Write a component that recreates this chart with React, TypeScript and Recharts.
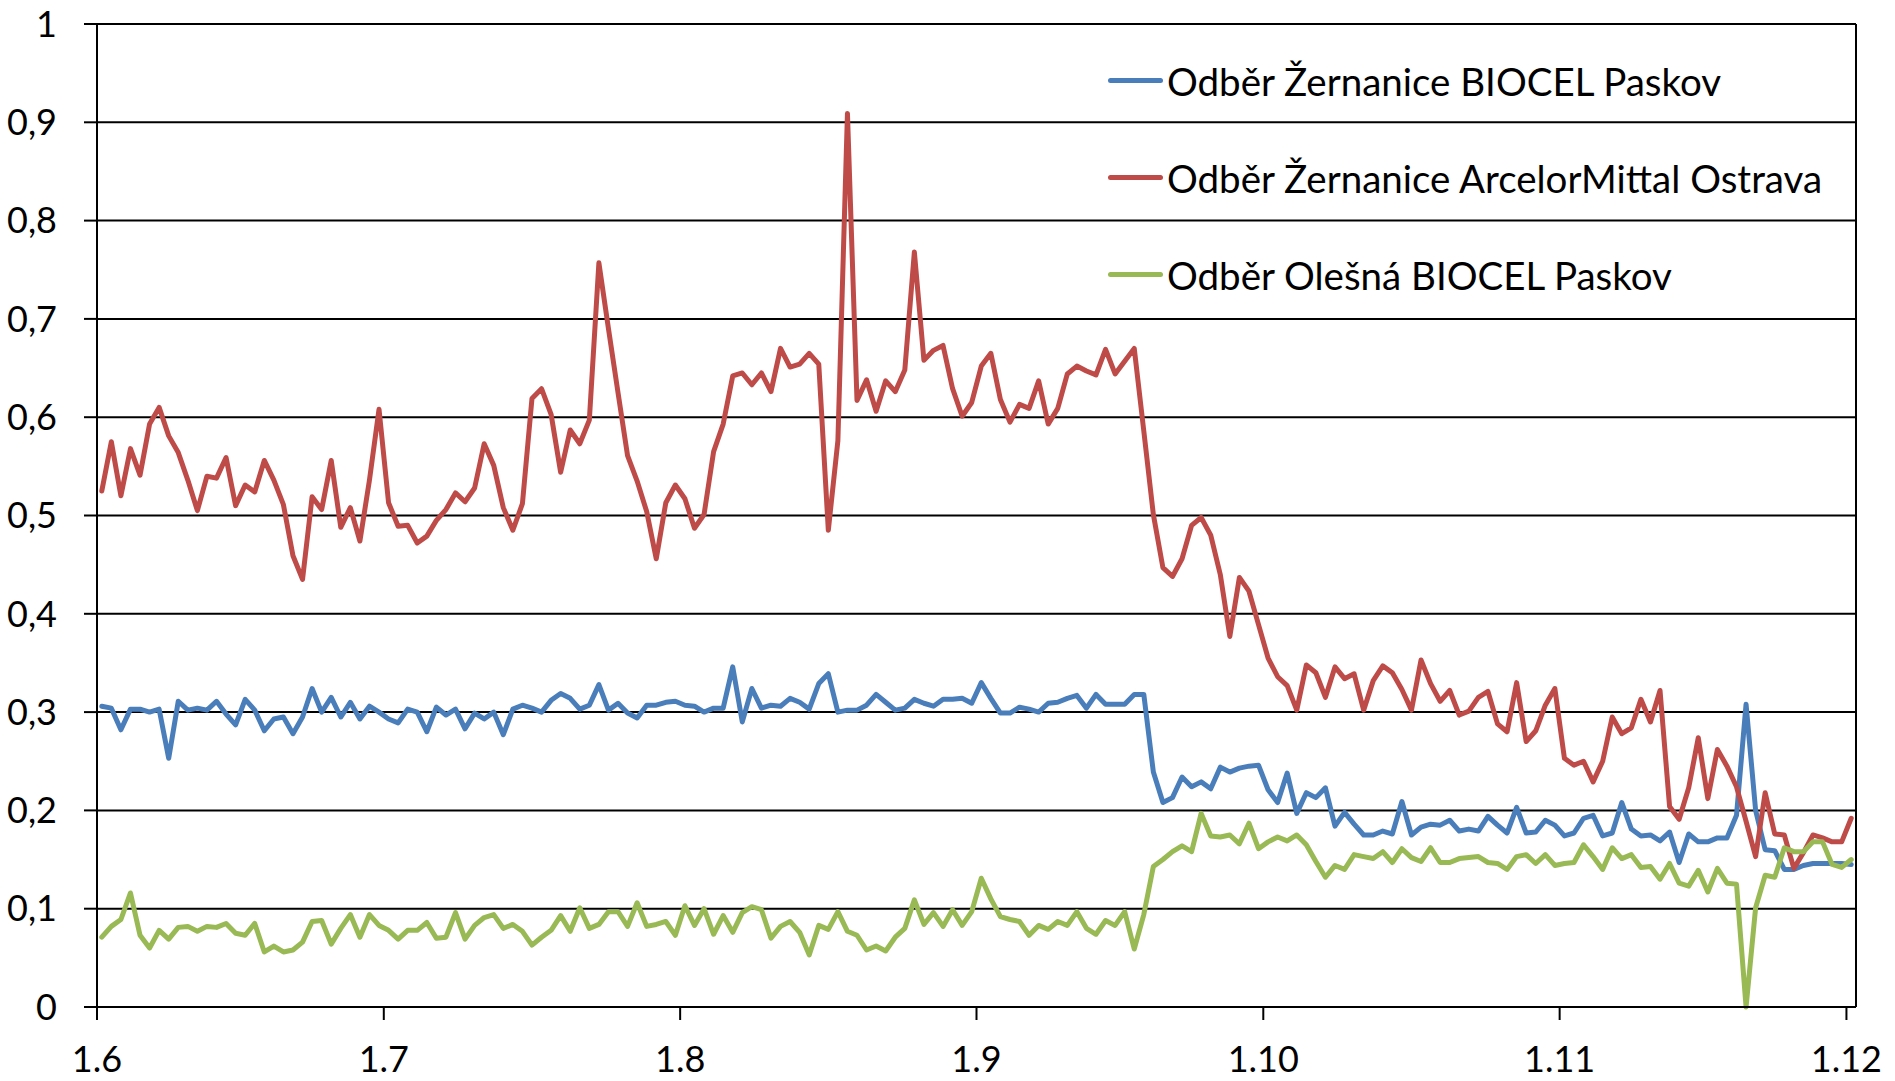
import { CartesianGrid, Line, LineChart, ReferenceLine, XAxis, YAxis } from 'recharts';

// one value per day, 1.6. – 1.12.
const biocelZernanice = [
  0.306, 0.304, 0.282, 0.303, 0.303, 0.3, 0.303, 0.253, 0.311, 0.302,
  0.304, 0.302, 0.311, 0.298, 0.287, 0.313, 0.302, 0.281, 0.293, 0.295,
  0.278, 0.295, 0.324, 0.3, 0.315, 0.295, 0.31, 0.293, 0.306, 0.3,
  0.293, 0.289, 0.303, 0.3, 0.28, 0.305, 0.297, 0.303, 0.283, 0.299,
  0.293, 0.3, 0.277, 0.303, 0.307, 0.304, 0.3, 0.312, 0.319, 0.314,
  0.303, 0.307, 0.328, 0.302, 0.309, 0.299, 0.294, 0.307, 0.307, 0.31,
  0.311, 0.307, 0.306, 0.3, 0.304, 0.304, 0.346, 0.29, 0.324, 0.304,
  0.307, 0.306, 0.314, 0.31, 0.303, 0.329, 0.339, 0.3, 0.302, 0.302,
  0.307, 0.318, 0.31, 0.302, 0.304, 0.313, 0.309, 0.306, 0.313, 0.313,
  0.314, 0.309, 0.33, 0.314, 0.299, 0.299, 0.305, 0.303, 0.3, 0.309,
  0.31, 0.314, 0.317, 0.304, 0.318, 0.308, 0.308, 0.308, 0.318, 0.318,
  0.239, 0.208, 0.213, 0.234, 0.224, 0.229, 0.222, 0.244, 0.239, 0.243,
  0.245, 0.246, 0.221, 0.208, 0.238, 0.197, 0.218, 0.213, 0.223, 0.184,
  0.198, 0.186, 0.175, 0.175, 0.179, 0.176, 0.209, 0.175, 0.183, 0.186,
  0.185, 0.19, 0.179, 0.181, 0.179, 0.194, 0.185, 0.177, 0.203, 0.177,
  0.178, 0.19, 0.185, 0.174, 0.177, 0.192, 0.195, 0.174, 0.177, 0.208,
  0.181, 0.174, 0.175, 0.169, 0.178, 0.147, 0.176, 0.168, 0.168, 0.172,
  0.172, 0.195, 0.308, 0.2, 0.16, 0.159, 0.14, 0.14, 0.144, 0.146,
  0.146, 0.146, 0.146, 0.145,
];

const arcelorZernanice = [
  0.525, 0.575, 0.52, 0.568, 0.541, 0.593, 0.61, 0.581, 0.564, 0.536,
  0.505, 0.54, 0.538, 0.559, 0.51, 0.531, 0.524, 0.556, 0.536, 0.511,
  0.459, 0.435, 0.519, 0.506, 0.556, 0.488, 0.508, 0.474, 0.536, 0.608,
  0.513, 0.489, 0.49, 0.472, 0.479, 0.495, 0.506, 0.523, 0.514, 0.528,
  0.573, 0.551, 0.508, 0.485, 0.512, 0.619, 0.629, 0.603, 0.544, 0.587,
  0.573, 0.597, 0.757, 0.69, 0.625, 0.561, 0.535, 0.504, 0.456, 0.513,
  0.531, 0.517, 0.487, 0.501, 0.565, 0.593, 0.642, 0.645, 0.633, 0.645,
  0.626, 0.67, 0.651, 0.654, 0.665, 0.654, 0.485, 0.576, 0.909, 0.617,
  0.638, 0.606, 0.637, 0.626, 0.648, 0.768, 0.658, 0.668, 0.673, 0.629,
  0.601, 0.615, 0.652, 0.665, 0.618, 0.595, 0.613, 0.609, 0.637, 0.593,
  0.609, 0.644, 0.652, 0.647, 0.643, 0.669, 0.644, 0.657, 0.67, 0.586,
  0.501, 0.447, 0.438, 0.456, 0.49, 0.498, 0.48, 0.44, 0.377, 0.437,
  0.423, 0.389, 0.355, 0.336, 0.327, 0.302, 0.348, 0.34, 0.315, 0.346,
  0.334, 0.339, 0.302, 0.332, 0.347, 0.34, 0.323, 0.302, 0.353, 0.329,
  0.311, 0.322, 0.297, 0.301, 0.315, 0.321, 0.288, 0.28, 0.33, 0.27,
  0.281, 0.307, 0.324, 0.253, 0.246, 0.25, 0.229, 0.25, 0.295, 0.278,
  0.284, 0.313, 0.29, 0.322, 0.204, 0.191, 0.223, 0.274, 0.212, 0.262,
  0.245, 0.224, 0.189, 0.153, 0.218, 0.176, 0.175, 0.141, 0.157, 0.175,
  0.172, 0.168, 0.168, 0.192,
];

const biocelOlesna = [
  0.071, 0.082, 0.089, 0.116, 0.073, 0.06, 0.078, 0.069, 0.081, 0.082,
  0.077, 0.082, 0.081, 0.085, 0.075, 0.073, 0.085, 0.056, 0.062, 0.056,
  0.058, 0.066, 0.087, 0.088, 0.064, 0.08, 0.094, 0.071, 0.094, 0.083,
  0.078, 0.069, 0.078, 0.078, 0.086, 0.07, 0.071, 0.096, 0.069, 0.083,
  0.091, 0.094, 0.08, 0.084, 0.077, 0.063, 0.071, 0.078, 0.093, 0.077,
  0.101, 0.08, 0.084, 0.097, 0.097, 0.082, 0.106, 0.082, 0.084, 0.087,
  0.073, 0.103, 0.083, 0.1, 0.074, 0.093, 0.076, 0.096, 0.102, 0.099,
  0.07, 0.082, 0.087, 0.076, 0.053, 0.083, 0.079, 0.097, 0.077, 0.073,
  0.058, 0.062, 0.057, 0.071, 0.08, 0.109, 0.084, 0.096, 0.082, 0.099,
  0.083, 0.097, 0.131, 0.11, 0.092, 0.089, 0.087, 0.073, 0.083, 0.079,
  0.087, 0.083, 0.097, 0.08, 0.074, 0.088, 0.083, 0.097, 0.059, 0.094,
  0.143, 0.15, 0.158, 0.164, 0.158, 0.197, 0.174, 0.173, 0.175, 0.166,
  0.187, 0.161, 0.168, 0.173, 0.169, 0.175, 0.165, 0.148, 0.132, 0.144,
  0.14, 0.155, 0.153, 0.151, 0.158, 0.147, 0.161, 0.152, 0.148, 0.162,
  0.147, 0.147, 0.151, 0.152, 0.153, 0.147, 0.146, 0.14, 0.153, 0.155,
  0.146, 0.155, 0.144, 0.146, 0.147, 0.165, 0.153, 0.14, 0.162, 0.151,
  0.155, 0.142, 0.143, 0.13, 0.146, 0.126, 0.123, 0.139, 0.117, 0.141,
  0.126, 0.125, 0, 0.101, 0.134, 0.132, 0.162, 0.158, 0.158, 0.168,
  0.168, 0.145, 0.142, 0.15,
];

// days since 1.6. where each month starts, and their labels
const monthStarts = [0, 30, 61, 92, 122, 153, 183];
const monthLabels = ['1.6', '1.7', '1.8', '1.9', '1.10', '1.11', '1.12'];
const totalDays = 184;

const yTicks = [0, 0.1, 0.2, 0.3, 0.4, 0.5, 0.6, 0.7, 0.8, 0.9, 1];
const yLabels = ['0', '0,1', '0,2', '0,3', '0,4', '0,5', '0,6', '0,7', '0,8', '0,9', '1'];

const series = [
  { key: 'blue', name: 'Odběr Žernanice BIOCEL Paskov', color: '#4A7EBB' },
  { key: 'red', name: 'Odběr Žernanice ArcelorMittal Ostrava', color: '#BE4B48' },
  { key: 'green', name: 'Odběr Olešná BIOCEL Paskov', color: '#98B954' },
];

// each day's value sits in the middle of its day slot, like Excel's date axis
const data = biocelZernanice.map((v, i) => ({
  day: i + 0.5,
  blue: v,
  red: arcelorZernanice[i],
  green: biocelOlesna[i],
}));

const FONT = 'Lato, "Open Sans", sans-serif';
const tickStyle = { fontSize: 36, fill: '#000', fontFamily: FONT };

export default function App() {
  return (
    <div style={{ position: 'absolute', left: 0, top: 0, width: 1895, height: 1081, background: '#fff' }}>
      <LineChart width={1895} height={1081} data={data} margin={{ top: 24, right: 39, bottom: 0, left: 0 }}>
        <CartesianGrid vertical={false} stroke="#000" strokeWidth={2} strokeOpacity={1} />
        <XAxis
          type="number"
          dataKey="day"
          domain={[0, totalDays]}
          ticks={monthStarts}
          interval={0}
          tickFormatter={(d) => monthLabels[monthStarts.indexOf(d)] ?? ''}
          height={74}
          tickSize={13}
          tickMargin={26}
          stroke="#000"
          strokeWidth={2}
          tick={tickStyle}
        />
        <YAxis
          domain={[0, 1]}
          ticks={yTicks}
          interval={0}
          tickFormatter={(v) => yLabels[yTicks.indexOf(v)] ?? ''}
          width={97}
          tickSize={13}
          tickMargin={27}
          stroke="#000"
          strokeWidth={2}
          tick={tickStyle}
        />
        <ReferenceLine x={totalDays} stroke="#000" strokeWidth={2} />
        {series.map((s) => (
          <Line
            key={s.key}
            dataKey={s.key}
            name={s.name}
            type="linear"
            stroke={s.color}
            strokeWidth={5}
            strokeLinejoin="round"
            strokeLinecap="round"
            dot={false}
            activeDot={false}
            isAnimationActive={false}
          />
        ))}
      </LineChart>

      {/* legend sits inside the plot, top right, one row per series */}
      <div style={{ position: 'absolute', left: 1108, top: 32, fontFamily: FONT, fontSize: 38.5, color: '#000' }}>
        {series.map((s) => (
          <div key={s.key} style={{ height: 97, display: 'flex', alignItems: 'center', whiteSpace: 'nowrap' }}>
            <div style={{ width: 55, height: 5, borderRadius: 3, background: s.color, marginRight: 4 }} />
            <span>{s.name}</span>
          </div>
        ))}
      </div>
    </div>
  );
}
